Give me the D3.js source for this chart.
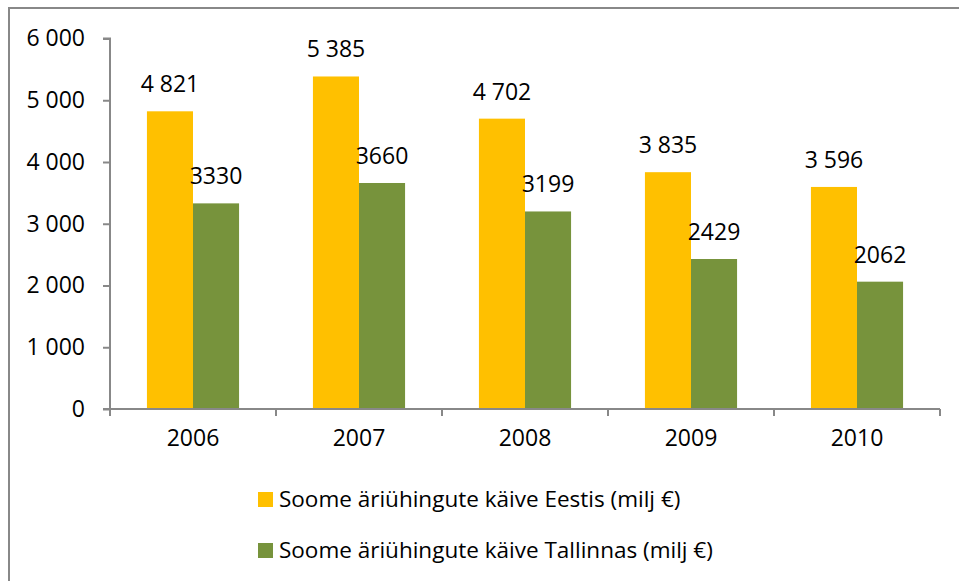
<!DOCTYPE html>
<html><head><meta charset="utf-8">
<script src="https://cdn.jsdelivr.net/npm/d3@7"></script>
<style>body{margin:0;background:#fff}svg{display:block}text{font-family:"Open Sans",sans-serif;fill:#000}</style>
</head><body><svg id="c" width="959" height="581"></svg>
<script>
const years = ["2006","2007","2008","2009","2010"];
const eestis = [4821, 5385, 4702, 3835, 3596];
const tallinnas = [3330, 3660, 3199, 2429, 2062];
const eestisLabels = ["4 821","5 385","4 702","3 835","3 596"];
const tallinnasLabels = ["3330","3660","3199","2429","2062"];
const seriesNames = ["Soome äriühingute käive Eestis (milj €)","Soome äriühingute käive Tallinnas (milj €)"];
const yTicks = [0,1000,2000,3000,4000,5000,6000];
const yTickLabels = ["0","1 000","2 000","3 000","4 000","5 000","6 000"];
const colors = ["#FFC000","#77933C"];
const FONT = "'Open Sans',sans-serif";

const svg = d3.select("#c");
svg.append("rect").attr("x",0).attr("y",0).attr("width",959).attr("height",581).attr("fill","#fff");
svg.append("path").attr("d","M9,581 V8 H959").attr("fill","none").attr("stroke","#888").attr("stroke-width",2);

const L=110, R=940, T=38.5, B=409;
const x = d3.scaleBand().domain(years).range([L,R]).paddingInner(0).paddingOuter(0);
const bw = x.bandwidth();
const x1 = d3.scaleBand().domain([0,1]).range([bw*0.2225, bw*0.7775]).paddingInner(0).paddingOuter(0);
const y = d3.scaleLinear().domain([0,6000]).range([B,T]);

const series = [eestis, tallinnas];
const labels = [eestisLabels, tallinnasLabels];
series.forEach((vals,si)=>{
  svg.append("g").selectAll("rect").data(vals).join("rect")
    .attr("x",(d,i)=>x(years[i])+x1(si))
    .attr("y",d=>y(d)).attr("width",x1.bandwidth()).attr("height",d=>B-y(d))
    .attr("fill",colors[si]);
  svg.append("g").selectAll("text").data(vals).join("text")
    .attr("x",(d,i)=>x(years[i])+x1(si)+x1.bandwidth()/2)
    .attr("y",d=>y(d)-19).attr("text-anchor","middle")
    .attr("font-size",23).text((d,i)=>labels[si][i]);
});

const yAxis = d3.axisLeft(y).tickValues(yTicks).tickFormat((d,i)=>yTickLabels[i]).tickSize(7).tickPadding(18);
const gy = svg.append("g").attr("transform",`translate(${L},0)`).call(yAxis);
gy.selectAll("path,line").attr("stroke","#888").attr("stroke-width",2);
gy.select("path").attr("d",`M-7,${B}H0V${T}H-7`);
gy.selectAll("text").attr("font-size",23).attr("font-family",FONT).attr("fill","#000");

const xAxis = d3.axisBottom(x).tickSize(0).tickPadding(21);
const gx = svg.append("g").attr("transform",`translate(0,${B})`).call(xAxis);
gx.select("path").attr("d",`M${L},0H${R}`).attr("stroke","#888").attr("stroke-width",2);
gx.selectAll("text").attr("font-size",23).attr("font-family",FONT).attr("fill","#000");
svg.append("g").selectAll("line").data(years.concat(["end"])).join("line")
  .attr("x1",(d,i)=>L+i*bw).attr("x2",(d,i)=>L+i*bw)
  .attr("y1",B).attr("y2",B+7).attr("stroke","#888").attr("stroke-width",2);

const lg = svg.append("g");
seriesNames.forEach((n,i)=>{
  const yy = 499 + i*51;
  lg.append("rect").attr("x",258).attr("y",yy-7).attr("width",15).attr("height",15).attr("fill",colors[i]);
  lg.append("text").attr("x",279).attr("y",yy+8).attr("font-size",22.5).text(n);
});
</script></body></html>
